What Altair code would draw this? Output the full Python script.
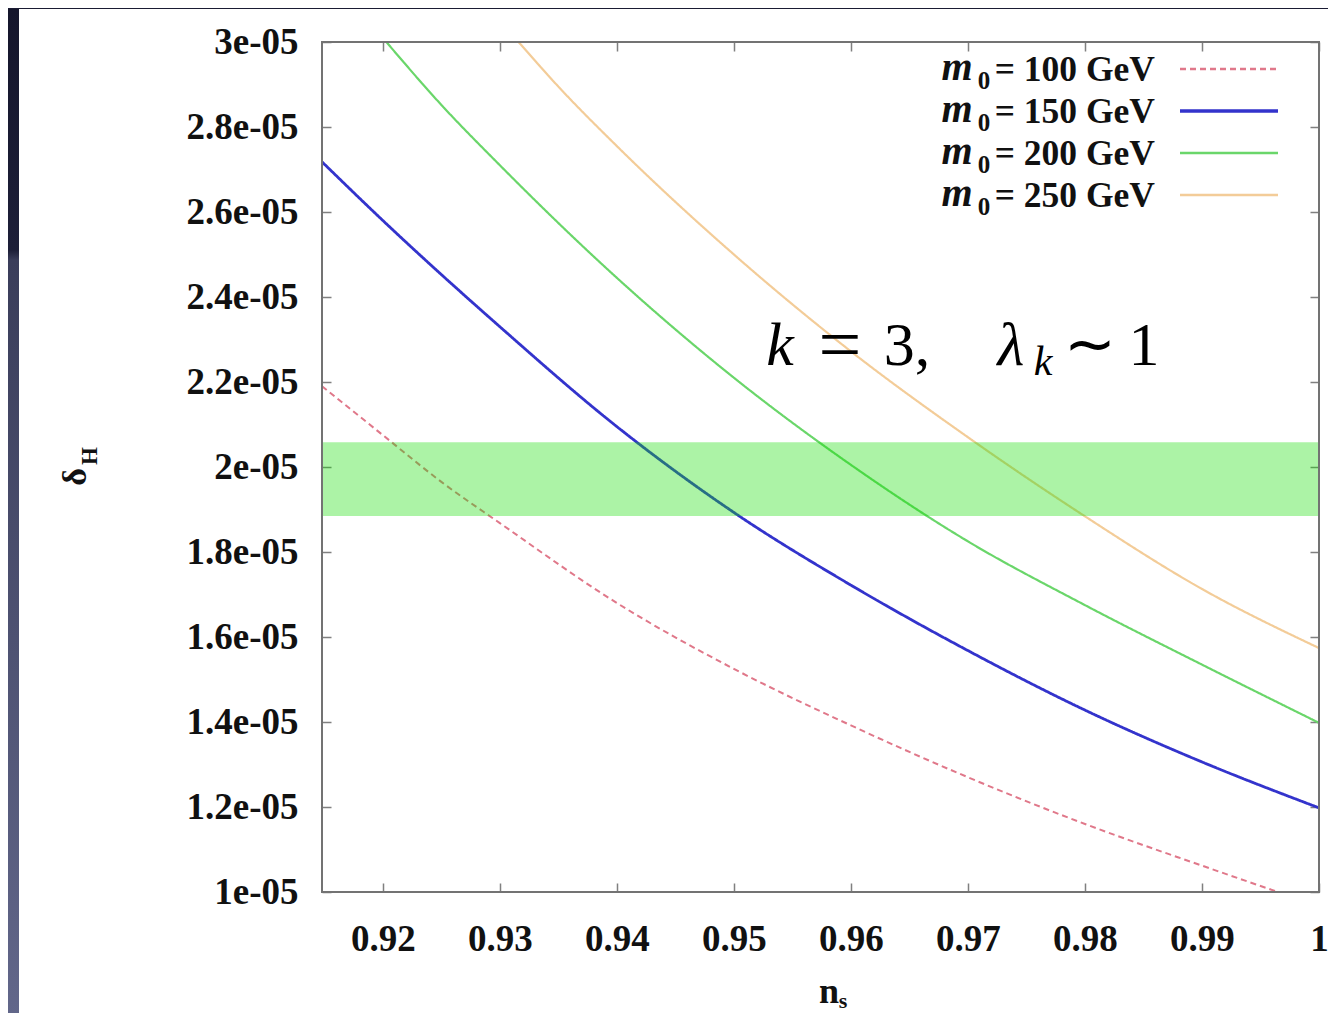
import altair as alt
import pandas as pd

# ---- data ----
ns_100 = [0.9148, 0.92, 0.925, 0.93, 0.94, 0.95, 0.96, 0.97, 0.98, 0.99, 0.9965]
delta_100 = [2.19e-5, 2.075e-5, 1.965e-5, 1.868e-5, 1.68e-5, 1.525e-5, 1.392e-5,
             1.27e-5, 1.16e-5, 1.062e-5, 1.0e-5]
ns_150 = [0.9148, 0.92, 0.93, 0.94, 0.95, 0.96, 0.97, 0.98, 0.99, 1.0]
delta_150 = [2.718e-5, 2.58e-5, 2.33e-5, 2.095e-5, 1.893e-5, 1.722e-5, 1.568e-5,
             1.428e-5, 1.306e-5, 1.198e-5]
ns_200 = [0.9203, 0.925, 0.93, 0.94, 0.95, 0.96, 0.97, 0.98, 0.99, 1.0]
delta_200 = [3.0e-5, 2.852e-5, 2.71e-5, 2.445e-5, 2.21e-5, 2.005e-5, 1.825e-5,
             1.675e-5, 1.535e-5, 1.398e-5]
ns_250 = [0.9316, 0.935, 0.94, 0.95, 0.96, 0.97, 0.98, 0.99, 1.0]
delta_250 = [3.0e-5, 2.895e-5, 2.755e-5, 2.5e-5, 2.272e-5, 2.07e-5, 1.884e-5,
             1.713e-5, 1.574e-5]

series_labels = ["= 100 GeV", "= 150 GeV", "= 200 GeV", "= 250 GeV"]
series_colors = ["#e0788a", "#3333cc", "#6ad66a", "#f3cc98"]
series_widths = [2, 2.8, 2.2, 2.2]
series_dash = [[6, 4], [1, 0], [1, 0], [1, 0]]

band_low = 1.885e-5
band_high = 2.058e-5

x_domain = [0.9148, 1.0]
y_domain = [1.0e-5, 3.0e-5]
x_ticks = [0.92, 0.93, 0.94, 0.95, 0.96, 0.97, 0.98, 0.99, 1.0]
y_ticks = [1.0e-5, 1.2e-5, 1.4e-5, 1.6e-5, 1.8e-5, 2.0e-5, 2.2e-5, 2.4e-5,
           2.6e-5, 2.8e-5, 3.0e-5]

W, H = 997, 850
SERIF = "Liberation Serif"

xs = alt.Scale(domain=x_domain, nice=False, zero=False)
ys = alt.Scale(domain=y_domain, nice=False, zero=False)

x_axis = alt.Axis(values=x_ticks, format=".2~f", labelFont=SERIF, labelFontWeight="bold",
                  labelFontSize=37, labelColor="#111111", labelPadding=29, ticks=False,
                  domain=False, grid=True, gridColor="#808080", gridWidth=1.5,
                  gridDash=[9, H - 18, 9, 2000], title=None, labelOverlap=False,
                  labelFlush=False)
y_axis = alt.Axis(values=y_ticks, labelExpr="format(datum.value*1e5, '.1~f') + 'e-05'",
                  labelFont=SERIF, labelFontWeight="bold", labelFontSize=37,
                  labelColor="#111111", labelPadding=24, ticks=False, domain=False,
                  grid=True, gridColor="#808080", gridWidth=1.5,
                  gridDash=[9, W - 18, 9, 2000], title=None, labelOverlap=False,
                  labelFlush=False)

one = pd.DataFrame({"a": [0]})

# ---- page decoration: dark slide edge on the left and at the top ----
strip = alt.Chart(one).mark_rect(
    fill=alt.LinearGradient(gradient="linear",
                            stops=[alt.GradientStop(color="#15162c", offset=0),
                                   alt.GradientStop(color="#1d1f38", offset=0.24),
                                   alt.GradientStop(color="#3a3d5a", offset=0.25),
                                   alt.GradientStop(color="#62678a", offset=1)],
                            x1=0, x2=0, y1=0, y2=1)
).encode(x=alt.value(-314), x2=alt.value(-303), y=alt.value(-34), y2=alt.value(975))
top_strip = alt.Chart(one).mark_rect(fill="#1a1b33").encode(
    x=alt.value(-314), x2=alt.value(1010), y=alt.value(-34), y2=alt.value(-33))

# ---- curves ----
series_data = [(ns_100, delta_100), (ns_150, delta_150), (ns_200, delta_200), (ns_250, delta_250)]
line_layers = []
for (nsv, dv), col, wd, dash in zip(series_data, series_colors, series_widths, series_dash):
    df = pd.DataFrame({"ns": nsv, "delta": dv})
    line_layers.append(
        alt.Chart(df).mark_line(color=col, strokeWidth=wd, strokeDash=dash,
                                interpolate="monotone").encode(
            x=alt.X("ns:Q", scale=xs, axis=x_axis),
            y=alt.Y("delta:Q", scale=ys, axis=y_axis)))

band_df = pd.DataFrame({"x0": [x_domain[0]], "x1": [x_domain[1]],
                        "lo": [band_low], "hi": [band_high]})
band = alt.Chart(band_df).mark_rect(fill="#10dc00", opacity=0.35).encode(
    x=alt.X("x0:Q", scale=xs, axis=x_axis), x2="x1:Q",
    y=alt.Y("lo:Q", scale=ys, axis=y_axis), y2="hi:Q")

# frame around the plot area
frame = alt.Chart(one).mark_rect(fillOpacity=0, stroke="#737373", strokeWidth=2).encode(
    x=alt.value(0), x2=alt.value(W), y=alt.value(0), y2=alt.value(H))

# ---- key (top right, inside the frame) ----
key_layers = []
for i, (lab, col, wd, dash) in enumerate(zip(series_labels, series_colors, series_widths, series_dash)):
    ry = 27 + 42 * i
    key_layers.append(alt.Chart(one).mark_text(
        text="m", font=SERIF, fontStyle="italic", fontWeight="bold", fontSize=40,
        align="center", baseline="alphabetic", color="#111111").encode(
        x=alt.value(635), y=alt.value(ry + 11)))
    key_layers.append(alt.Chart(one).mark_text(
        text="0", font=SERIF, fontWeight="bold", fontSize=25,
        align="center", baseline="alphabetic", color="#111111").encode(
        x=alt.value(662), y=alt.value(ry + 20)))
    key_layers.append(alt.Chart(one).mark_text(
        text=lab, font=SERIF, fontWeight="bold", fontSize=35.5,
        align="right", baseline="alphabetic", color="#111111").encode(
        x=alt.value(833), y=alt.value(ry + 12)))
    key_layers.append(alt.Chart(one).mark_rule(
        color=col, strokeWidth=wd + 0.5, strokeDash=dash).encode(
        x=alt.value(858), x2=alt.value(956), y=alt.value(ry)))

# ---- annotation  k = 3,  λ_k ~ 1 ----
ann = []
ann_pieces = [("k", 458, 323, 62, "italic"), ("=", 518, 328, 76, "normal"),
              ("3,", 585, 323, 62, "normal"), ("λ", 689, 323, 62, "italic"),
              ("k", 721, 333, 42, "italic"), ("∼", 768, 323, 62, "normal"),
              ("1", 822, 323, 62, "normal")]
for t, px, py, fs, st in ann_pieces:
    ann.append(alt.Chart(one).mark_text(
        text=t, font=SERIF, fontStyle=st, fontSize=fs, align="center",
        baseline="alphabetic", color="#000000").encode(x=alt.value(px), y=alt.value(py)))

# ---- axis titles ----
titles = [
    alt.Chart(one).mark_text(text="δ", font=SERIF, fontWeight="bold", fontSize=34,
                             angle=270, align="center", baseline="middle",
                             color="#111111").encode(x=alt.value(-246), y=alt.value(435)),
    alt.Chart(one).mark_text(text="H", font=SERIF, fontWeight="bold", fontSize=23,
                             angle=270, align="center", baseline="middle",
                             color="#111111").encode(x=alt.value(-232), y=alt.value(414)),
    alt.Chart(one).mark_text(text="n", font=SERIF, fontWeight="bold", fontSize=36,
                             align="center", baseline="alphabetic",
                             color="#111111").encode(x=alt.value(507), y=alt.value(961)),
    alt.Chart(one).mark_text(text="s", font=SERIF, fontWeight="bold", fontSize=22,
                             align="center", baseline="alphabetic",
                             color="#111111").encode(x=alt.value(521), y=alt.value(966)),
]

chart = alt.layer(strip, top_strip, *line_layers, band, frame, *key_layers, *ann, *titles).properties(
    width=W, height=H,
    autosize=alt.AutoSizeParams(type="none"),
    padding={"left": 314, "top": 34, "right": 9, "bottom": 121},
).configure_view(stroke=None).configure(background="white")

chart.save("out.html", embed_options={"renderer": "svg", "actions": False})
